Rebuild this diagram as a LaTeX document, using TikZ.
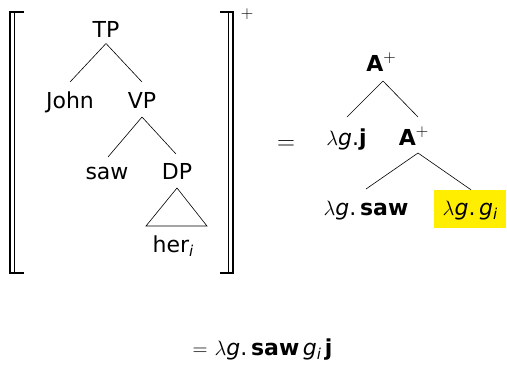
\documentclass[tikz,border=0pt]{standalone}
\usepackage{fontspec}
\setmainfont{DejaVu Sans}
\definecolor{hilite}{RGB}{255,238,0}
% lambda-abstraction prefix and the italic index
\newcommand\lamg{$\lambda$\textit{g}.}
\newcommand\isub{\raisebox{-0.22em}{\fontsize{15}{15}\selectfont\itshape i}}
\newcommand\plus{\raisebox{0.40em}{\fontsize{18}{18}\selectfont$+$}}
\begin{document}
\begin{tikzpicture}[x=1pt,y=-1pt,
  lbl/.style={inner sep=0pt,anchor=base,font=\fontsize{22}{26}\selectfont},
  branch/.style={line width=0.6pt},
  brk/.style={line width=1.2pt,line cap=rect}]
\useasboundingbox (0,0) rectangle (507,365);

% ---- semantic brackets around the syntax tree ----
\coordinate (LT) at (10,12);
\coordinate (LB) at (10,273);
\coordinate (RT) at (233,12);
\coordinate (RB) at (233,273);
\draw[brk] ([xshift=13pt]LT) -- (LT) -- (LB) -- ([xshift=13pt]LB);
\draw[brk] ([xshift=4.5pt]LT) -- ([xshift=4.5pt]LB);
\draw[brk] ([xshift=-12pt]RT) -- (RT) -- (RB) -- ([xshift=-12pt]RB);
\draw[brk] ([xshift=-4.5pt]RT) -- ([xshift=-4.5pt]RB);
\node[inner sep=0pt,font=\fontsize{18}{18}\selectfont] (plus) at (247,14) {$+$};

% ---- syntax tree ----
\node[lbl] (TP)   at (106,37)  {TP};
\node[lbl] (John) at (70,108)  {John};
\node[lbl] (VP)   at (142,108) {VP};
\node[lbl] (saw)  at (107,179) {saw};
\node[lbl] (DP)   at (177,179) {DP};
\node[lbl] (her)  at (173,252) {her\isub};

\draw[branch] ([yshift=-6.5pt]TP.base) -- ([yshift=26pt]John.base);
\draw[branch] ([yshift=-6.5pt]TP.base) -- ([yshift=26pt]VP.base);
\draw[branch] ([yshift=-9pt]VP.base) -- ([xshift=1pt,yshift=22pt]saw.base);
\draw[branch] ([yshift=-9pt]VP.base) -- ([xshift=-1pt,yshift=25pt]DP.base);
\draw[branch] ([yshift=-9pt]DP.base) -- ([xshift=-31pt,yshift=-47pt]DP.base)
  -- ([xshift=30pt,yshift=-47pt]DP.base) -- cycle;

% ---- equals sign ----
\node[lbl,font=\fontsize{24}{28}\selectfont] (eq) at (286,149) {$=$};

% ---- semantic tree ----
\node[lbl] (A1)   at (381,71)  {\textbf{A}\plus};
\node[lbl] (lj)   at (346.5,145) {\lamg\textbf{j}};
\node[lbl] (A2)   at (413.5,145) {\textbf{A}\plus};
\node[lbl] (lsaw) at (366,215) {\lamg\,\textbf{saw}};
\node[lbl,fill=hilite,inner xsep=9pt,text height=25pt,text depth=13pt]
  (lgi) at (470,215) {\lamg\,\textit{g}\isub};

\draw[branch] ([xshift=2pt,yshift=-10pt]A1.base) -- ([xshift=0.5pt,yshift=28pt]lj.base);
\draw[branch] ([xshift=2pt,yshift=-10pt]A1.base) -- ([xshift=4.5pt,yshift=28pt]A2.base);
\draw[branch] ([xshift=4.5pt,yshift=-8pt]A2.base) -- ([yshift=26pt]lsaw.base);
\draw[branch] ([xshift=4.5pt,yshift=-8pt]A2.base) -- ([xshift=1pt]lgi.north);

% ---- result ----
\node[lbl] (res) at (262.5,355) {$=$ \lamg\,\textbf{saw}\,\textit{g}\isub\,\textbf{j}};
\end{tikzpicture}
\end{document}
